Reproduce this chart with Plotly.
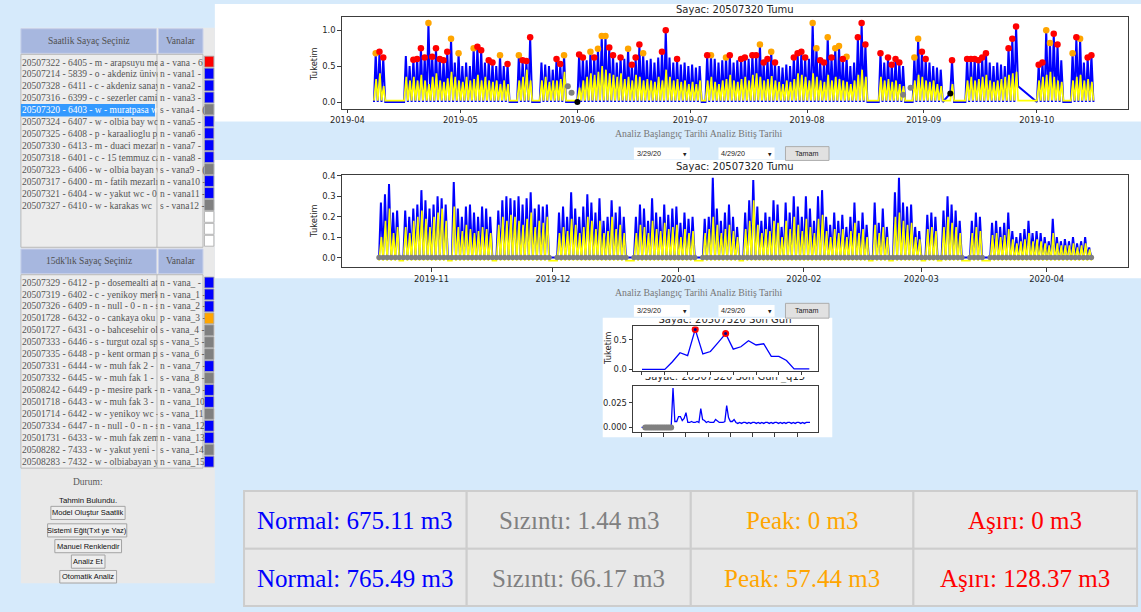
import pandas as pd
import plotly.graph_objects as go

W, H = 1141, 612

# ---------------- DATA: top chart "Sayac: 20507320 Tumu" (2019) ----------------
top_block_starts = ["2019-04-08", "2019-04-16", "2019-05-16", "2019-05-22", "2019-06-01",
                    "2019-07-05", "2019-08-20", "2019-08-29", "2019-09-08", "2019-09-12",
                    "2019-10-01", "2019-10-10"]
top_blue_peaks = [
    [0.68, 0.70, 0.62],
    [0.64, 0.50, 0.59, 0.60, 0.75, 0.62, 1.10, 0.63, 0.75, 0.60, 0.58, 0.70, 0.88, 0.55,
     0.68, 0.50, 0.55, 0.50, 0.75, 0.77, 0.72, 0.55, 0.58, 0.55, 0.50, 0.65, 0.50, 0.53],
    [0.65, 0.58, 0.57, 0.90],
    [0.55, 0.52, 0.50, 0.45, 0.60, 0.53, 0.65],
    [0.66, 0.62, 0.58, 0.70, 0.62, 0.74, 0.92, 0.92, 0.76, 0.65, 0.55, 0.62, 0.60, 0.74,
     0.52, 0.62, 0.80, 0.68, 0.58, 0.60, 0.55, 0.62, 0.70, 1.00, 0.62, 0.55, 0.60, 0.52,
     0.55, 0.50, 0.52, 0.48, 0.50],
    [0.65, 0.65, 0.60, 0.55, 0.58, 0.62, 0.65, 0.55, 0.58, 0.60, 0.62, 0.60, 0.65, 0.65,
     0.80, 0.55, 0.60, 0.70, 0.55, 0.50, 0.48, 0.52, 0.50, 0.62, 0.68, 0.70, 0.62, 0.60,
     1.10, 0.75, 0.58, 0.55, 0.90, 0.62, 0.75, 0.78, 0.60, 0.63, 0.50, 0.55, 0.90, 1.10, 0.80],
    [0.68, 0.55, 0.62, 0.52, 0.60, 0.55, 0.50],
    [0.62, 0.88, 0.70, 0.60, 0.55, 0.50, 0.48, 0.45],
    [0.58],
    [0.60, 0.60, 0.60, 0.58, 0.62, 0.68, 0.55, 0.50, 0.55, 0.52, 0.50, 0.75, 0.88, 1.05],
    [0.52, 0.55, 1.00, 0.82, 0.95, 0.80, 0.58],
    [0.68, 0.90, 0.88, 0.55, 0.62, 0.65],
]
top_yellow_peaks = [
    [0.32, 0.40, 0.22],
    [0.35, 0.30, 0.35, 0.30, 0.38, 0.30, 0.25, 0.35, 0.40, 0.30, 0.28, 0.33, 0.42, 0.35,
     0.30, 0.28, 0.35, 0.30, 0.32, 0.38, 0.30, 0.35, 0.30, 0.28, 0.30, 0.25, 0.30, 0.25],
    [0.30, 0.35, 0.45, 0.30],
    [0.30, 0.35, 0.28, 0.30, 0.30, 0.32, 0.42],
    [0.20, 0.30, 0.35, 0.40, 0.38, 0.42, 0.50, 0.45, 0.40, 0.38, 0.35, 0.40, 0.32, 0.35,
     0.30, 0.38, 0.35, 0.30, 0.32, 0.30, 0.28, 0.35, 0.30, 0.45, 0.35, 0.30, 0.32, 0.28,
     0.30, 0.25, 0.28, 0.25, 0.30],
    [0.30, 0.35, 0.28, 0.25, 0.30, 0.32, 0.38, 0.30, 0.28, 0.32, 0.35, 0.30, 0.38, 0.40,
     0.35, 0.30, 0.32, 0.36, 0.30, 0.28, 0.25, 0.30, 0.28, 0.32, 0.40, 0.38, 0.35, 0.30,
     0.40, 0.35, 0.30, 0.28, 0.38, 0.30, 0.35, 0.32, 0.30, 0.28, 0.25, 0.30, 0.38, 0.45, 0.35],
    [0.35, 0.30, 0.32, 0.28, 0.30, 0.25, 0.22],
    [0.30, 0.38, 0.35, 0.30, 0.28, 0.30, 0.25, 0.22],
    [0.25],
    [0.30, 0.35, 0.30, 0.32, 0.35, 0.38, 0.30, 0.28, 0.30, 0.32, 0.35, 0.38, 0.40, 0.42],
    [0.30, 0.35, 0.38, 0.42, 0.35, 0.30, 0.28],
    [0.30, 0.35, 0.38, 0.30, 0.32, 0.28],
]
# r = Aşırı (red), o = Peak (orange), - = none
top_flags = ["orr", "--rrrrorrrrro-o---orr-rr-o-r", "orrr", "----rro",
             "rr-orooorr-r-orrro----rr--r------",
             "ro---or--rr-rrorror----rrrr-oorrorooro--rrr",
             "r-rrrr-", "oorr----", "r", "rrrrrr-----rrr", "rroorr-", "oro-rr"]
top_open = [0, 0, 0, 0, 0, 0, 0, 0, 0.12, 0, 0, 0]
top_close = [0, 0, 0, 0, 0, 0, 0, 0, 0, 0.22, 0, 0]
top_gray_times = ["2019-05-29 12:00", "2019-05-30 12:00", "2019-08-26 12:00", "2019-08-28 12:00"]
top_gray_vals = [0.22, 0.13, 0.10, 0.20]
top_black_times = ["2019-06-01 01:00", "2019-09-08 01:00"]
top_black_vals = [0.0, 0.12]

# ---------------- DATA: middle chart (2019-10 .. 2020-04) ----------------
mid_block_starts = ["2019-10-19", "2019-10-25", "2019-11-06", "2019-11-17", "2019-12-02",
                    "2019-12-21", "2020-01-07", "2020-01-17", "2020-02-18", "2020-02-23",
                    "2020-03-02", "2020-03-06", "2020-03-13", "2020-03-18"]
mid_blue_peaks = [
    [0.27, 0.31, 0.36, 0.22, 0.23],
    [0.23, 0.20, 0.24, 0.26, 0.33, 0.28, 0.24, 0.26, 0.30, 0.29, 0.26],
    [0.37, 0.24, 0.20, 0.25, 0.26, 0.22, 0.20, 0.25, 0.24, 0.20],
    [0.23, 0.28, 0.30, 0.29, 0.28, 0.30, 0.26, 0.29, 0.32, 0.24, 0.26, 0.25, 0.26],
    [0.22, 0.25, 0.20, 0.32, 0.24, 0.20, 0.25, 0.31, 0.27, 0.22, 0.29, 0.18, 0.20, 0.28,
     0.22, 0.25, 0.20],
    [0.20, 0.26, 0.24, 0.18, 0.29, 0.22, 0.20, 0.26, 0.21, 0.24, 0.25, 0.17, 0.22, 0.19, 0.20],
    [0.19, 0.20, 0.39, 0.24, 0.18, 0.22, 0.26, 0.20, 0.15],
    [0.22, 0.28, 0.38, 0.25, 0.18, 0.22, 0.20, 0.28, 0.26, 0.15, 0.27, 0.22, 0.30, 0.25,
     0.20, 0.30, 0.24, 0.18, 0.30, 0.33, 0.20, 0.16, 0.22, 0.18, 0.21, 0.15, 0.20, 0.27,
     0.18, 0.22, 0.16],
    [0.27, 0.17, 0.24, 0.15],
    [0.32, 0.39, 0.27, 0.25, 0.26, 0.15, 0.13],
    [0.21, 0.22, 0.20],
    [0.23, 0.30, 0.26, 0.23, 0.18],
    [0.18, 0.22, 0.20],
    [0.17, 0.18, 0.15, 0.17, 0.22, 0.13, 0.10, 0.12, 0.14, 0.18, 0.12, 0.13, 0.12, 0.10,
     0.08, 0.19, 0.10, 0.08, 0.09, 0.08, 0.10, 0.07, 0.08, 0.10, 0.05],
]
mid_yellow_peaks = [
    [0.10, 0.18, 0.24, 0.12, 0.15],
    [0.15, 0.12, 0.18, 0.20, 0.23, 0.19, 0.15, 0.20, 0.22, 0.24, 0.18],
    [0.25, 0.15, 0.13, 0.16, 0.14, 0.12, 0.13, 0.15, 0.14, 0.12],
    [0.16, 0.20, 0.18, 0.21, 0.20, 0.18, 0.16, 0.19, 0.22, 0.15, 0.18, 0.17, 0.20],
    [0.12, 0.15, 0.13, 0.19, 0.16, 0.12, 0.15, 0.20, 0.18, 0.14, 0.18, 0.12, 0.13, 0.20,
     0.14, 0.16, 0.12],
    [0.12, 0.16, 0.15, 0.12, 0.18, 0.14, 0.13, 0.17, 0.14, 0.15, 0.16, 0.10, 0.14, 0.12, 0.13],
    [0.12, 0.14, 0.20, 0.16, 0.12, 0.14, 0.16, 0.13, 0.10],
    [0.14, 0.18, 0.28, 0.16, 0.12, 0.14, 0.13, 0.18, 0.17, 0.10, 0.18, 0.14, 0.20, 0.16,
     0.13, 0.19, 0.15, 0.12, 0.19, 0.21, 0.13, 0.10, 0.14, 0.12, 0.14, 0.10, 0.13, 0.17,
     0.12, 0.14, 0.10],
    [0.16, 0.12, 0.15, 0.10],
    [0.20, 0.22, 0.18, 0.16, 0.17, 0.10, 0.09],
    [0.14, 0.15, 0.13],
    [0.15, 0.20, 0.17, 0.15, 0.12],
    [0.12, 0.15, 0.13],
    [0.11, 0.12, 0.10, 0.11, 0.14, 0.09, 0.07, 0.08, 0.09, 0.12, 0.08, 0.09, 0.08, 0.07,
     0.06, 0.12, 0.07, 0.06, 0.06, 0.06, 0.07, 0.05, 0.06, 0.07, 0.04],
]

# ---------------- DATA: last-day charts ----------------
son_gun_hours = list(range(23))
son_gun_vals = [0.0, 0.0, 0.0, 0.0, 0.13, 0.28, 0.23, 0.67, 0.26, 0.30, 0.45, 0.60,
                0.34, 0.38, 0.48, 0.41, 0.43, 0.22, 0.22, 0.15, 0.01, 0.01, 0.01]
son_gun_asiri_hours = [7, 11]
q15_vals = [0.0, 0.0, 0.0, 0.0, 0.0, 0.0, 0.0, 0.0, 0.0, 0.0, 0.0, 0.0, 0.0, 0.0, 0.0, 0.0,
            0.0, 0.040, 0.006, 0.006, 0.011, 0.011, 0.007, 0.009, 0.015, 0.005, 0.005, 0.006,
            0.005, 0.005, 0.006, 0.005, 0.019, 0.008, 0.007, 0.005, 0.006, 0.005, 0.005, 0.005,
            0.008, 0.006, 0.005, 0.005, 0.005, 0.006, 0.022, 0.010, 0.006, 0.006, 0.008, 0.005,
            0.004, 0.005, 0.004, 0.005, 0.005, 0.004, 0.005, 0.004, 0.005, 0.005, 0.004, 0.005,
            0.004, 0.005, 0.004, 0.005, 0.005, 0.004, 0.005, 0.004, 0.005, 0.005, 0.004, 0.005,
            0.004, 0.005, 0.004, 0.005, 0.005, 0.004, 0.005, 0.004, 0.005, 0.005, 0.004, 0.005,
            0.004, 0.005, 0.005, 0.005]
q15_leak_hours = [0.5, 0.75, 1.0, 1.25, 1.5, 1.75, 2.0, 2.25, 2.5, 2.75, 3.0, 3.25, 3.5,
                  3.75, 4.0]

# ---------------- DATA: left panel lists (visible parts) ----------------
saatlik_meters = [
    "20507322 - 6405 - m - arapsuyu me", "20507214 - 5839 - o - akdeniz ünive",
    "20507328 - 6411 - c - akdeniz sanay", "20507316 - 6399 - c - sezerler cami",
    "20507320 - 6403 - w - muratpasa w", "20507324 - 6407 - w - olbia bay wc",
    "20507325 - 6408 - p - karaalioglu p", "20507330 - 6413 - m - duaci mezarl",
    "20507318 - 6401 - c - 15 temmuz ca", "20507323 - 6406 - w - olbia bayan v",
    "20507317 - 6400 - m - fatih mezarlığ", "20507321 - 6404 - w - yakut wc - 0",
    "20507327 - 6410 - w - karakas wc"]
saatlik_vanalar = ["a - vana - 6", "n - vana1 -", "n - vana2 -", "n - vana3 -",
                   "s - vana4 - (", "n - vana5 -", "n - vana6 -", "n - vana7 -",
                   "n - vana8 -", "s - vana9 - (", "n - vana10 -", "n - vana11 -",
                   "s - vana12 -"]
saatlik_colors = ["#ff0000", "#0000ff", "#0000ff", "#0000ff", "#808080", "#0000ff", "#0000ff",
                  "#0000ff", "#0000ff", "#808080", "#0000ff", "#0000ff", "#808080",
                  "#ffffff", "#ffffff", "#ffffff"]
saatlik_selected = 4
q15_meters = [
    "20507329 - 6412 - p - dosemealti at", "20507319 - 6402 - c - yenikoy merk",
    "20507326 - 6409 - n - null - 0 - n - s", "20501728 - 6432 - o - cankaya oku",
    "20501727 - 6431 - o - bahcesehir ol", "20507333 - 6446 - s - turgut ozal sp",
    "20507335 - 6448 - p - kent orman p", "20507331 - 6444 - w - muh fak 2 -",
    "20507332 - 6445 - w - muh fak 1 -", "20508242 - 6449 - p - mesire park -",
    "20501718 - 6443 - w - muh fak 3 -", "20501714 - 6442 - w - yenikoy wc -",
    "20507334 - 6447 - n - null - 0 - n - s", "20501731 - 6433 - w - muh fak zem",
    "20508282 - 7433 - w - yakut yeni -", "20508283 - 7432 - w - olbiabayan y"]
q15_vanalar = ["n - vana_ -", "n - vana_1 -", "n - vana_2 -", "p - vana_3 -",
               "s - vana_4 -", "s - vana_5 -", "s - vana_6 -", "n - vana_7 -",
               "s - vana_8 -", "n - vana_9 -", "n - vana_10", "s - vana_11",
               "n - vana_12", "n - vana_13", "s - vana_14", "n - vana_15"]
q15_colors = ["#0000ff", "#0000ff", "#0000ff", "#ffa500", "#808080", "#808080", "#808080",
              "#0000ff", "#808080", "#0000ff", "#0000ff", "#808080", "#0000ff", "#0000ff",
              "#808080", "#0000ff"]
button_labels = ["Model Oluştur Saatlik", "Sistemi Eğit(Txt ye Yaz)", "Manuel Renklendir",
                 "Analiz Et", "Otomatik Analiz"]
date_start_label, date_end_label = "3/29/20", "4/29/20"

# ---------------- DATA: summary table ----------------
table_labels = ["Normal", "Sızıntı", "Peak", "Aşırı"]
table_row1 = ["675.11", "1.44", "0", "0"]
table_row2 = ["765.49", "66.17", "57.44", "128.37"]
table_colors = ["#0000ff", "#808080", "#ffa500", "#ff0000"]

# =====================================================================
LIGHT = "#d6eafb"
PANEL = "#e9e9e9"
LISTBG = "#ededed"
HDR = "#a7b7df"
MPL = "DejaVu Sans"
SERIF = "Liberation Serif"
SANS = "Liberation Sans"


def fx(px):
    return px / W


def fy(py):
    return 1 - py / H


def build(starts, peaks_list, peak_hour, base, open_vals=None, close_vals=None):
    xs, ys, bases, peaks = [], [], [], []
    for b, (start, pk) in enumerate(zip(starts, peaks_list)):
        d0 = pd.Timestamp(start)
        ov = base if open_vals is None else open_vals[b]
        cv = base if close_vals is None else close_vals[b]
        t = d0 + pd.Timedelta(hours=1)
        xs.append(t); ys.append(ov); bases.append((t, ov))
        for k, p in enumerate(pk):
            day = d0 + pd.Timedelta(days=k)
            tp = day + pd.Timedelta(hours=peak_hour)
            xs.append(tp); ys.append(p); peaks.append((tp, p, b, k))
            tb = day + pd.Timedelta(days=1, hours=1)
            v = cv if k == len(pk) - 1 else base
            xs.append(tb); ys.append(v); bases.append((tb, v))
    return xs, ys, bases, peaks


fig = go.Figure()

# ---- top chart
bx, by, _, bpk = build(top_block_starts, top_blue_peaks, 12, 0.0, top_open, top_close)
yx, yy, _, _ = build(top_block_starts, top_yellow_peaks, 15, 0.02)
fig.add_trace(go.Scatter(x=bx, y=by, mode="lines", line=dict(color="#0000ff", width=2.0),
                         xaxis="x", yaxis="y"))
fig.add_trace(go.Scatter(x=yx, y=yy, mode="lines", line=dict(color="#ffff00", width=1.7),
                         xaxis="x", yaxis="y"))
fig.add_trace(go.Scatter(x=pd.to_datetime(top_gray_times), y=top_gray_vals, mode="markers",
                         marker=dict(color="#808080", size=6), xaxis="x", yaxis="y"))
for flag, col in (("o", "#ffa500"), ("r", "#ff0000")):
    mx, my = [], []
    for tp, p, b, k in bpk:
        fl = top_flags[b].ljust(len(top_blue_peaks[b]), "-")[k]
        if fl == flag:
            mx.append(tp); my.append(p)
    fig.add_trace(go.Scatter(x=mx, y=my, mode="markers", marker=dict(color=col, size=6.5),
                             xaxis="x", yaxis="y"))
fig.add_trace(go.Scatter(x=pd.to_datetime(top_black_times), y=top_black_vals, mode="markers",
                         marker=dict(color="#000000", size=6), xaxis="x", yaxis="y"))

# ---- middle chart
mbx, mby, mbase, _ = build(mid_block_starts, mid_blue_peaks, 12, 0.0)
myx, myy, _, _ = build(mid_block_starts, mid_yellow_peaks, 15, -0.015)
fig.add_trace(go.Scatter(x=mbx, y=mby, mode="lines", line=dict(color="#0000ff", width=2.0),
                         xaxis="x2", yaxis="y2"))
fig.add_trace(go.Scatter(x=myx, y=myy, mode="lines", line=dict(color="#ffff00", width=1.6),
                         xaxis="x2", yaxis="y2"))
fig.add_trace(go.Scatter(x=[t for t, v in mbase], y=[v for t, v in mbase], mode="markers",
                         marker=dict(color="#808080", size=5.5), xaxis="x2", yaxis="y2"))

# ---- small charts
fig.add_trace(go.Scatter(x=son_gun_hours, y=son_gun_vals, mode="lines",
                         line=dict(color="#0000ff", width=1.3), xaxis="x3", yaxis="y3"))
fig.add_trace(go.Scatter(x=son_gun_asiri_hours, y=[son_gun_vals[h] for h in son_gun_asiri_hours],
                         mode="markers", marker=dict(color="#ff0000", size=7),
                         xaxis="x3", yaxis="y3"))
fig.add_trace(go.Scatter(x=son_gun_asiri_hours, y=[son_gun_vals[h] for h in son_gun_asiri_hours],
                         mode="markers", marker=dict(color="#00008b", size=3),
                         xaxis="x3", yaxis="y3"))
q15_hours = [i * 0.25 for i in range(len(q15_vals))]
fig.add_trace(go.Scatter(x=q15_hours, y=q15_vals, mode="lines",
                         line=dict(color="#0000ff", width=1.3), xaxis="x4", yaxis="y4"))
fig.add_trace(go.Scatter(x=q15_leak_hours, y=[0.0] * len(q15_leak_hours), mode="markers",
                         marker=dict(color="#808080", size=6), xaxis="x4", yaxis="y4"))

# ---- axes
tickfont = dict(family=MPL, size=8.4, color="#262626")
common = dict(showline=True, mirror=True, linecolor="#3c3c3c", linewidth=1, ticks="outside",
              ticklen=3.5, tickwidth=1, tickcolor="#3c3c3c", showgrid=False, zeroline=False,
              tickfont=tickfont, fixedrange=True)
layout_axes = dict(
    xaxis=dict(domain=[fx(333.3), fx(1128)], type="date",
               range=["2019-03-30 12:00", "2019-10-25 06:00"], dtick="M1",
               tick0="2019-04-01", tickformat="%Y-%m", anchor="y", **common),
    yaxis=dict(domain=[fy(106), fy(12.7)], range=[-0.092, 1.19], tickvals=[0, 0.5, 1.0],
               ticktext=["0.0", "0.5", "1.0"], anchor="x", **common),
    xaxis2=dict(domain=[fx(333.3), fx(1128)], type="date",
                range=["2019-10-09 20:00", "2020-04-21 03:00"], dtick="M1",
                tick0="2019-11-01", tickformat="%Y-%m", anchor="y2", **common),
    yaxis2=dict(domain=[fy(266.7), fy(173.3)], range=[-0.047, 0.404],
                tickvals=[0, 0.1, 0.2, 0.3, 0.4], ticktext=["0.0", "0.1", "0.2", "0.3", "0.4"],
                anchor="x2", **common),
    xaxis3=dict(domain=[fx(627.7), fx(815)], range=[-1.17, 23.2],
                tickvals=[0, 3, 6, 9, 12, 15, 18, 21], showticklabels=False, anchor="y3",
                **common),
    yaxis3=dict(domain=[fy(371.7), fy(326.7)], range=[-0.023, 0.72], tickvals=[0, 0.5],
                ticktext=["0.0", "0.5"], anchor="x3", **common),
    xaxis4=dict(domain=[fx(627.7), fx(815)], range=[-1.14, 23.89],
                tickvals=[0, 3, 6, 9, 12, 15, 18, 21], showticklabels=False, anchor="y4",
                **common),
    yaxis4=dict(domain=[fy(434), fy(386.7)], range=[-0.005, 0.0423], tickvals=[0, 0.025],
                ticktext=["0.000", "0.025"], anchor="x4", **common),
)

# ---- shapes & annotations
shapes, anns = [], []


def rect(x0, y0, x1, y1, fill, line=None, lw=1, layer="below"):
    shapes.append(dict(type="rect", xref="paper", yref="paper", x0=fx(x0), x1=fx(x1),
                       y0=fy(y1), y1=fy(y0), fillcolor=fill, layer=layer,
                       line=dict(color=line if line else fill, width=lw if line else 0)))


def vline(x, y0, y1, color, lw=1):
    shapes.append(dict(type="line", xref="paper", yref="paper", x0=fx(x), x1=fx(x),
                       y0=fy(y1), y1=fy(y0), line=dict(color=color, width=lw), layer="below"))


def txt(x, y, s, size, color, family, xanchor="center", yanchor="middle", **kw):
    anns.append(dict(x=fx(x), y=fy(y), xref="paper", yref="paper", text=s, showarrow=False,
                     font=dict(size=size, color=color, family=family), xanchor=xanchor,
                     yanchor=yanchor, borderpad=0, **kw))


# white regions behind charts
rect(205, 0, 1141, 119, "#ffffff")
rect(205, 158, 1141, 278, "#ffffff")
rect(597, 318, 829, 439, "#ffffff")

# left panel
rect(9, 24, 205, 587, PANEL)
for (hy0, hy1, title, meters, vanas, colors, sq_top, row_top, n_sq) in (
        (25, 50, "Saatlik Sayaç Seçiniz", saatlik_meters, saatlik_vanalar, saatlik_colors,
         52.9, 59.3, 16),
        (248.3, 273.3, "15dk'lık Sayaç Seçiniz", q15_meters, q15_vanalar, q15_colors,
         276.7, 282.3, 16)):
    rect(9, hy0, 146, hy1, HDR, "#c8d0ea")
    rect(148, hy0, 193, hy1, HDR, "#c8d0ea")
    txt(77.5, (hy0 + hy1) / 2, title, 9.5, "#4f4f4f", SERIF)
    txt(170.5, (hy0 + hy1) / 2, "Vanalar", 9.5, "#4f4f4f", SERIF)
    box_bottom = sq_top + 12.1 * n_sq
    rect(9, hy1 + 1, 193, box_bottom, LISTBG, "#b9b9b9")
    vline(146.5, hy1 + 1, box_bottom, "#b9b9b9")
    for i, (m, v) in enumerate(zip(meters, vanas)):
        cy = row_top + 12.1 * i
        sel = (title.startswith("Saatlik") and i == saatlik_selected)
        if sel:
            rect(9, cy - 6.4, 144.5, cy + 6.2, "#3399ff")
        txt(9, cy, m, 9.5, "#ffffff" if sel else "#545454", SERIF, xanchor="left",
            width=135.5, align="left")
        txt(148.5, cy, v, 9.5, "#545454", SERIF, xanchor="left", width=44.5, align="left")
    for i, c in enumerate(colors):
        t0 = sq_top + 12.1 * i
        rect(194.5, t0, 204, t0 + 11, c, "#a8a8a8", 0.8)

txt(76.7, 484, "Durum:", 9.5, "#5a5a5a", SERIF)
txt(76.7, 503.3, "Tahmin Bulundu.", 7.8, "#111111", SANS)
btn_boxes = [(39.3, 509, 114.3, 522.3), (36, 526.7, 116, 540), (43.3, 542.7, 110.7, 556),
             (60, 558.3, 94, 571.7), (48.3, 574, 105.7, 586.7)]
for lab, (x0, y0, x1, y1) in zip(button_labels, btn_boxes):
    rect(x0, y0, x1, y1, "#eeeeee", "#a3a3a3", 1)
    txt((x0 + x1) / 2, (y0 + y1) / 2, lab, 7.5, "#111111", SANS)

# date pickers bands
for (ty, py0, py1, by0, by1) in ((131.5, 145.5, 157.5, 144.5, 158.5),
                                  (292, 305, 317, 303.3, 318.3)):
    txt(694.5, ty, "Analiz Başlangıç Tarihi Analiz Bitiş Tarihi", 9.8, "#777777", SERIF)
    for (x0, x1, lab) in ((628.5, 685, date_start_label), (714, 770.7, date_end_label)):
        rect(x0, py0, x1, py1, "#ffffff")
        txt(x0 + 1.8, (py0 + py1) / 2, lab, 7.2, "#222222", SANS, xanchor="left")
        txt(x1 - 4.5, (py0 + py1) / 2 + 0.5, "▼", 4.5, "#222222", MPL)
    rect(781.7, by0, 825.7, by1, "#e1e1e1", "#adadad", 1)
    txt(803.7, (by0 + by1) / 2, "Tamam", 7.2, "#222222", SANS)

# chart titles & labels
txt(730.6, 5.5, "Sayac: 20507320 Tumu", 10, "#262626", MPL)
txt(730.6, 164.8, "Sayac: 20507320 Tumu", 10, "#262626", MPL)
txt(305, 61, "Tuketim", 8.4, "#262626", MPL, textangle=-90)
txt(305, 220, "Tuketim", 8.4, "#262626", MPL, textangle=-90)
txt(603, 349, "Tuketim", 8.4, "#262626", MPL, textangle=-90)
# partially hidden titles of the small charts (only lower part visible)
txt(721, 318.3, "Sayac: 20507320 Son Gun", 10, "#262626", MPL, yanchor="top",
    height=5.5, valign="bottom", width=160)
txt(721, 377, "Sayac: 20507320 Son Gun _q15", 10, "#262626", MPL, yanchor="top",
    height=5.5, valign="bottom", width=180)

# summary table
col_edges = [234.5, 459.5, 686, 911, 1137]
row_edges = [493.5, 552, 610]
for r, vals in enumerate((table_row1, table_row2)):
    for c in range(4):
        rect(col_edges[c], row_edges[r], col_edges[c + 1], row_edges[r + 1], "#e8e8e8",
             "#cdcdcd", 2)
        txt((col_edges[c] + col_edges[c + 1]) / 2, (row_edges[r] + row_edges[r + 1]) / 2 + 1,
            f"{table_labels[c]}: {vals[c]} m3", 25, table_colors[c], SERIF)

fig.update_layout(
    width=W, height=H, autosize=False, margin=dict(l=0, r=0, t=0, b=0, pad=0),
    paper_bgcolor=LIGHT, plot_bgcolor="#ffffff", showlegend=False,
    shapes=shapes, annotations=anns, **layout_axes)

fig.write_html(
    "out.html", config={"displayModeBar": False, "staticPlot": True},
    post_script=("document.documentElement.style.margin='0';"
                 "document.body.style.margin='0';document.body.style.padding='0';"
                 "document.body.style.overflow='hidden';"
                 "var d=document.getElementById('{plot_id}');"
                 "d.style.position='fixed';d.style.left='0px';d.style.top='0px';"))
